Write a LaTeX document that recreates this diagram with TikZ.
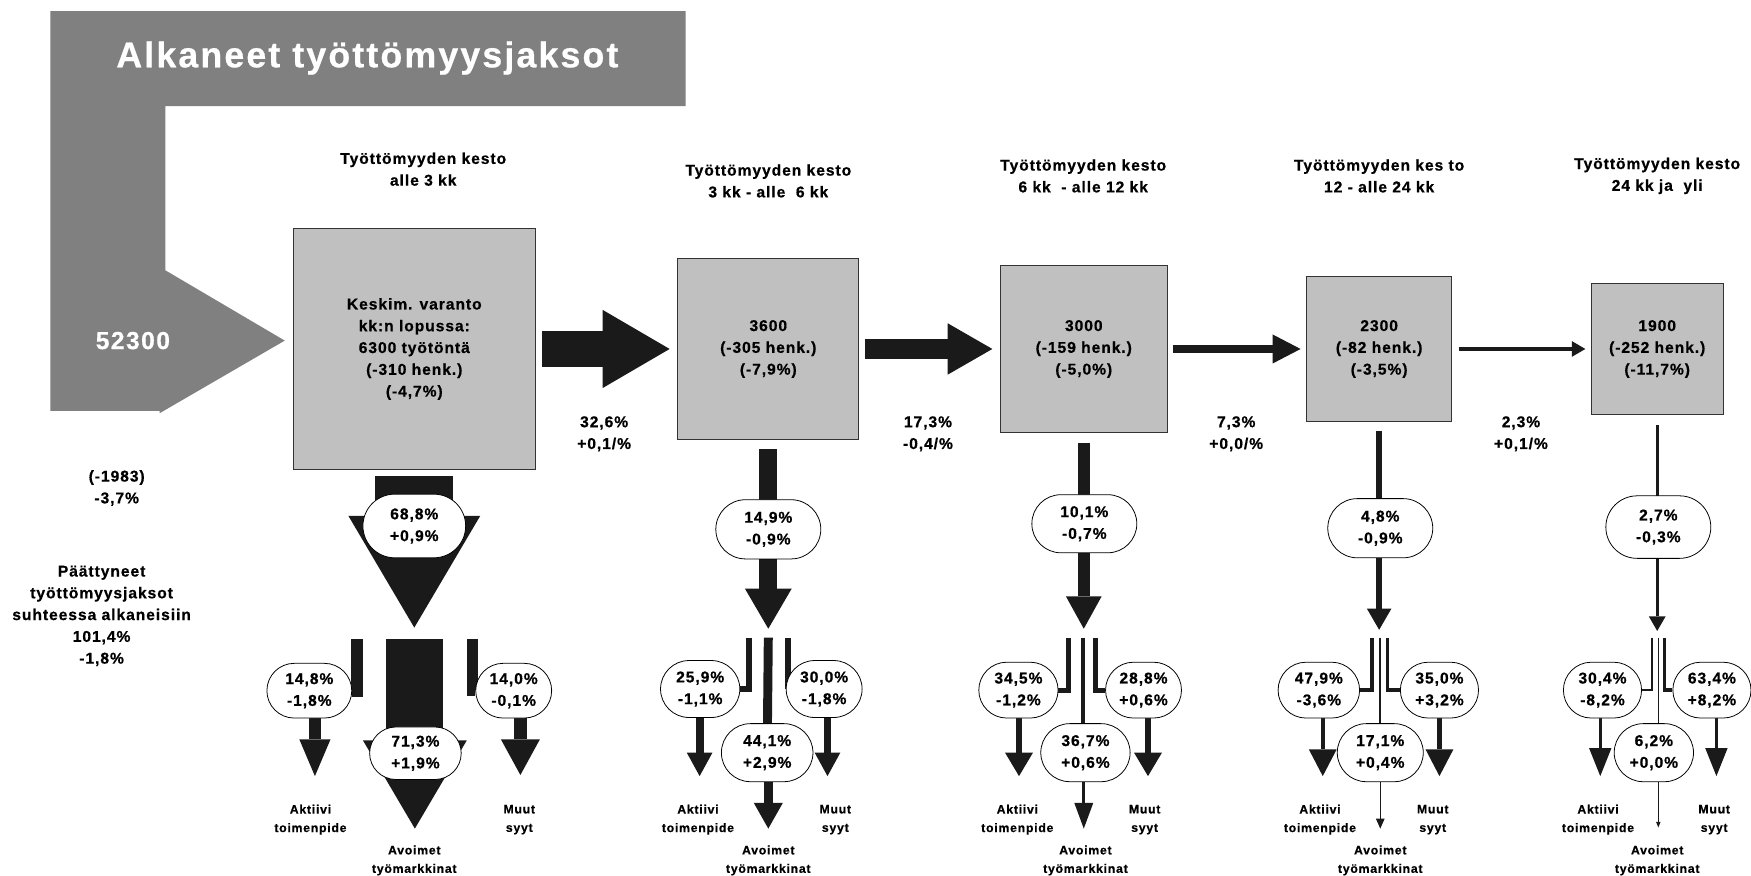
\documentclass[tikz,border=0pt]{standalone}
\usepackage{fontspec}
\setmainfont{Liberation Sans}
\newfontfamily\trackfont{Liberation Sans}[LetterSpace=6, BoldFeatures={FakeBold=0.6}]
\usetikzlibrary{arrows.meta}
\usetikzlibrary{backgrounds}
\usetikzlibrary{shapes.misc}
\definecolor{panelgray}{HTML}{808080}
\definecolor{stockgray}{HTML}{C0C0C0}
\definecolor{flowblack}{HTML}{1A1A1A}

\tikzset{
  txt/.style={font=\trackfont\bfseries\fontsize{14}{19.5}\selectfont, align=center, inner sep=0pt},
  exitlbl/.style={font=\trackfont\bfseries\fontsize{11}{16.5}\selectfont, align=center, inner sep=0pt},
  stock/.style={txt, draw=black!80, line width=0.7pt, fill=stockgray, minimum size=#1},
  share/.style 2 args={txt, rounded rectangle, draw=black, line width=0.7pt, fill=white,
    minimum width=#1, minimum height=#2},
  flow/.style n args={3}{draw=flowblack, line width=#1,
    -{Triangle[width=#2, length=#3, line width=0pt]}},
  branch/.style={draw=flowblack, line width=#1},
}

\begin{document}
\begin{tikzpicture}[x=1pt, y=-1pt]
  \useasboundingbox (0,0) rectangle (1568,784);

  % inflow banner
  \fill[panelgray] (45,10) -- (614,10) -- (614,95) -- (148,95) -- (148,242) -- (255,305)
    -- (143,370) -- (143,368) -- (45,368) -- cycle;
  \node[font=\trackfont\bfseries\fontsize{32}{38}\selectfont, text=white] (title) at (329,52) {Alkaneet työttömyysjaksot};
  \node[font=\trackfont\bfseries\fontsize{22}{26}\selectfont, text=white] (inflow) at (119,305) {52300};

  \node[txt] (net) at (104.5,437) {(-1983)\\-3,7\%};
  \node[txt] (ended) at (91,551.5) {Päättyneet\\työttömyysjaksot\\suhteessa alkaneisiin\\101,4\%\\-1,8\%};

  % duration headers
  \node[txt] (h1) at (379,151.5) {Työttömyyden kesto\\alle 3 kk};
  \node[txt] (h2) at (688,162) {Työttömyyden kesto\\3 kk - alle~~6 kk};
  \node[txt] (h3) at (970,157.5) {Työttömyyden kesto\\6 kk~~- alle 12 kk};
  \node[txt] (h4) at (1235,157.5) {Työttömyyden kes to\\12 - alle 24 kk};
  \node[txt] (h5) at (1484,157.5) {Työttömyyden kesto\\24 kk ja~~yli};

  % stocks
  \node[stock=216pt] (b1) at (371,312.5) {Keskim. varanto\\kk:n lopussa:\\6300 työtöntä\\(-310 henk.)\\(-4,7\%)};
  \node[stock=162pt] (b2) at (688,312.5) {3600\\(-305 henk.)\\(-7,9\%)};
  \node[stock=149pt] (b3) at (970.5,312.5) {3000\\(-159 henk.)\\(-5,0\%)};
  \node[stock=130pt] (b4) at (1235,312.5) {2300\\(-82 henk.)\\(-3,5\%)};
  \node[stock=118pt] (b5) at (1484,312.5) {1900\\(-252 henk.)\\(-11,7\%)};

  \node[txt] (r12) at (541,388.5) {32,6\%\\+0,1/\%};
  \node[txt] (r23) at (831,388.5) {17,3\%\\-0,4/\%};
  \node[txt] (r34) at (1107,388.5) {7,3\%\\+0,0/\%};
  \node[txt] (r45) at (1362,388.5) {2,3\%\\+0,1/\%};

  % exit shares
  \node[share={92pt}{57pt}] (p1) at (371,471) {68,8\%\\+0,9\%};
  \node[share={94pt}{53pt}] (p2) at (688,474) {14,9\%\\-0,9\%};
  \node[share={94pt}{52pt}] (p3) at (971,469) {10,1\%\\-0,7\%};
  \node[share={94pt}{53pt}] (p4) at (1236,473) {4,8\%\\-0,9\%};
  \node[share={94pt}{56pt}] (p5) at (1485,472) {2,7\%\\-0,3\%};

  \node[share={76pt}{49pt}] (l1) at (277,618.5) {14,8\%\\-1,8\%};
  \node[share={68pt}{49pt}] (r1) at (460,618.5) {14,0\%\\-0,1\%};
  \node[share={82pt}{47pt}] (c1) at (372,674.5) {71,3\%\\+1,9\%};
  \node[share={71pt}{51pt}] (l2) at (627,617) {25,9\%\\-1,1\%};
  \node[share={68pt}{51pt}] (r2) at (738,617) {30,0\%\\-1,8\%};
  \node[share={82pt}{52pt}] (c2) at (687,674) {44,1\%\\+2,9\%};
  \node[share={71pt}{50pt}] (l3) at (912,618) {34,5\%\\-1,2\%};
  \node[share={68pt}{50pt}] (r3) at (1024,618) {28,8\%\\+0,6\%};
  \node[share={80pt}{52pt}] (c3) at (972,674) {36,7\%\\+0,6\%};
  \node[share={73pt}{50pt}] (l4) at (1181,618) {47,9\%\\-3,6\%};
  \node[share={70pt}{50pt}] (r4) at (1289,618) {35,0\%\\+3,2\%};
  \node[share={77pt}{52pt}] (c4) at (1236,674) {17,1\%\\+0,4\%};
  \node[share={70pt}{50pt}] (l5) at (1435,618) {30,4\%\\-8,2\%};
  \node[share={70pt}{50pt}] (r5) at (1533,618) {63,4\%\\+8,2\%};
  \node[share={71pt}{52pt}] (c5) at (1481,674) {6,2\%\\+0,0\%};

  % exit routes
  \node[exitlbl] (a1) at (278,734) {Aktiivi\\toimenpide};
  \node[exitlbl] (m1) at (465,734) {Muut\\syyt};
  \node[exitlbl] (v1) at (371,770.5) {Avoimet\\työmarkkinat};
  \node[exitlbl] (a2) at (625,734) {Aktiivi\\toimenpide};
  \node[exitlbl] (m2) at (748,734) {Muut\\syyt};
  \node[exitlbl] (v2) at (688,770.5) {Avoimet\\työmarkkinat};
  \node[exitlbl] (a3) at (911,734) {Aktiivi\\toimenpide};
  \node[exitlbl] (m3) at (1025,734) {Muut\\syyt};
  \node[exitlbl] (v3) at (972,770.5) {Avoimet\\työmarkkinat};
  \node[exitlbl] (a4) at (1182,734) {Aktiivi\\toimenpide};
  \node[exitlbl] (m4) at (1283,734) {Muut\\syyt};
  \node[exitlbl] (v4) at (1236,770.5) {Avoimet\\työmarkkinat};
  \node[exitlbl] (a5) at (1431,734) {Aktiivi\\toimenpide};
  \node[exitlbl] (m5) at (1535,734) {Muut\\syyt};
  \node[exitlbl] (v5) at (1484,770.5) {Avoimet\\työmarkkinat};

  % arrow ends
  \coordinate (d1) at (371,562);    \coordinate (d2) at (688,563);
  \coordinate (d3) at (970.5,563);  \coordinate (d4) at (1235,564);
  \coordinate (d5) at (1484,565);
  \coordinate (lt1) at (319.5,572); \coordinate (ct1) at (371.5,572); \coordinate (rt1) at (423,572);
  \coordinate (lt2) at (670.5,571); \coordinate (ct2) at (688,571);   \coordinate (rt2) at (705.5,571);
  \coordinate (lt3) at (957,571);   \coordinate (ct3) at (970,571);   \coordinate (rt3) at (981,571);
  \coordinate (lt4) at (1228.5,571);\coordinate (ct4) at (1235.5,571);\coordinate (rt4) at (1242.5,571);
  \coordinate (lt5) at (1479,571);  \coordinate (ct5) at (1485,571);  \coordinate (rt5) at (1490.5,571);
  \coordinate (ta1) at (282,695);   \coordinate (tm1) at (466,694);   \coordinate (tv1) at (371.5,742);
  \coordinate (ta2) at (626.5,695); \coordinate (tm2) at (741,695);   \coordinate (tv2) at (688,742);
  \coordinate (ta3) at (912.5,695); \coordinate (tm3) at (1028,695);  \coordinate (tv3) at (970.5,742);
  \coordinate (ta4) at (1184.5,695);\coordinate (tm4) at (1289,695);  \coordinate (tv4) at (1236,742);
  \coordinate (ta5) at (1433,695);  \coordinate (tm5) at (1537,695);  \coordinate (tv5) at (1485,741);

  \begin{scope}[on background layer]
    % transitions between durations
    \draw[flow={33pt}{70pt}{60pt}, shorten <=6pt, shorten >=7pt] (b1) -- (b2);
    \draw[flow={18pt}{46pt}{40pt}, shorten <=5pt, shorten >=7pt] (b2) -- (b3);
    \draw[flow={8pt}{26pt}{25pt}, shorten <=5pt, shorten >=5pt] (b3) -- (b4);
    \draw[flow={3pt}{14pt}{12pt}, shorten <=6pt, shorten >=5pt] (b4) -- (b5);

    % outflows
    \draw[flow={70pt}{118pt}{100pt}, shorten <=5pt] (b1) -- (d1);
    \draw[flow={16pt}{42pt}{36pt}, shorten <=8pt] (b2) -- (d2);
    \draw[flow={11pt}{32pt}{29pt}, shorten <=9pt] (b3) -- (d3);
    \draw[flow={5.5pt}{22pt}{19pt}, shorten <=8pt] (b4) -- (d4);
    \draw[flow={2.5pt}{15pt}{13pt}, shorten <=9pt] (b5) -- (d5);

    % split per exit route
    \draw[branch=11pt] (lt1) |- (l1);
    \draw[branch=10pt] (rt1) |- (r1);
    \draw[flow={51pt}{93pt}{79pt}] (ct1) -- (tv1);
    \draw[flow={11pt}{28pt}{33pt}] (l1.south -| ta1) -- (ta1);
    \draw[flow={11pt}{35pt}{32pt}] (r1.south -| tm1) -- (tm1);

    \draw[branch=5.5pt] (lt2) |- (l2);
    \draw[branch=5.5pt] (rt2) |- (r2);
    \draw[branch=8pt] (ct2) -- (c2);
    \draw[flow={8pt}{26pt}{23pt}] (c2.south -| tv2) -- (tv2);
    \draw[flow={7pt}{23pt}{21pt}] (l2.south -| ta2) -- (ta2);
    \draw[flow={7pt}{23pt}{21pt}] (r2.south -| tm2) -- (tm2);

    \draw[branch=4.5pt] (lt3) |- (l3);
    \draw[branch=4.5pt] (rt3) |- (r3);
    \draw[branch=4pt] (ct3) -- (ct3 |- c3.north);
    \draw[flow={3pt}{17pt}{23pt}] (c3.south -| tv3) -- (tv3);
    \draw[flow={5pt}{25pt}{21pt}] (l3.south -| ta3) -- (ta3);
    \draw[flow={5pt}{25pt}{21pt}] (r3.south -| tm3) -- (tm3);

    \draw[branch=3pt] (lt4) |- (l4);
    \draw[branch=3pt] (rt4) |- (r4);
    \draw[branch=1.5pt] (ct4) -- (ct4 |- c4.north);
    \draw[flow={1.2pt}{8pt}{9pt}] (c4.south -| tv4) -- (tv4);
    \draw[flow={4pt}{25pt}{24pt}] (l4.south -| ta4) -- (ta4);
    \draw[flow={4pt}{25pt}{24pt}] (r4.south -| tm4) -- (tm4);

    \draw[branch=2pt] (lt5) |- (l5);
    \draw[branch=3pt] (rt5) |- (r5);
    \draw[branch=1.2pt] (ct5) -- (ct5 |- c5.north);
    \draw[flow={1pt}{4pt}{5pt}] (c5.south -| tv5) -- (tv5);
    \draw[flow={3pt}{20pt}{25pt}] (l5.south -| ta5) -- (ta5);
    \draw[flow={3pt}{20pt}{25pt}] (r5.south -| tm5) -- (tm5);
  \end{scope}
\end{tikzpicture}
\end{document}
